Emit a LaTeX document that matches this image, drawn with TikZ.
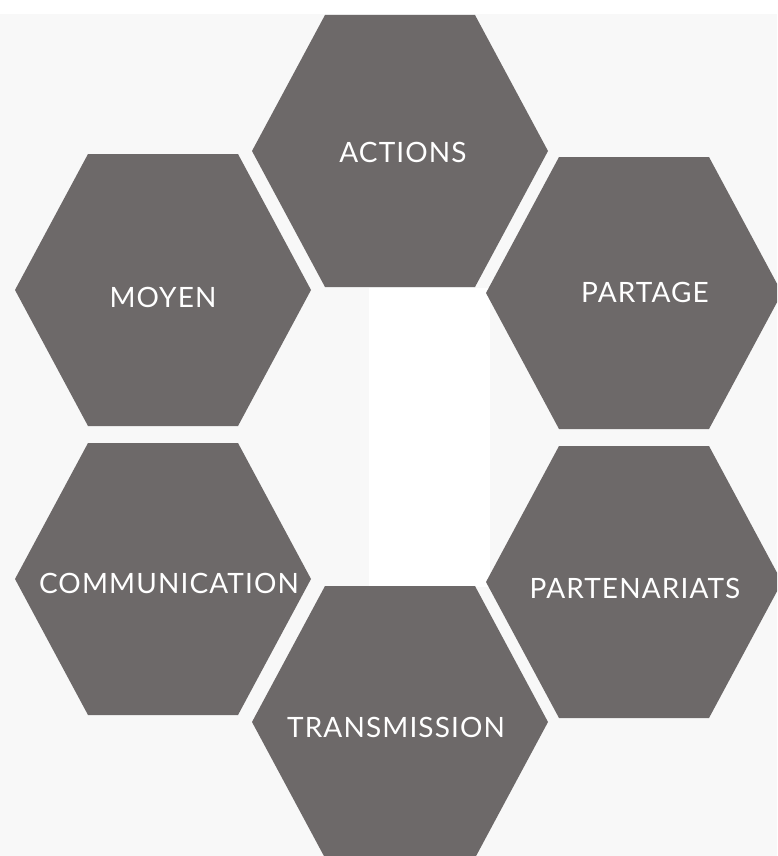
\documentclass[tikz,border=0pt]{standalone}
\usepackage{fontspec}
\setsansfont{Lato}[LetterSpace=4]
\usepackage{tikz}

\definecolor{hexgray}{RGB}{109,105,105}
\definecolor{paper}{RGB}{248,248,248}

\tikzset{
  hexcell/.style={fill=hexgray},
  celltext/.style={text=white,font=\sffamily\fontsize{28}{30}\selectfont,inner sep=0pt}
}

\begin{document}
\begin{tikzpicture}[x=1pt,y=-1pt]
        \useasboundingbox (0,0) rectangle (777,856);
        \clip (0,0) rectangle (777,856);
        \fill[white] (0,0) rectangle (777,856);
        \fill[paper] (0,14) rectangle (777,856);
        \fill[white] (369,288) rectangle (490,587);
        % six cells: name/centre x/centre y/text x/text y/label
        \foreach \nm/\cx/\cy/\tx/\ty/\lbl in {
            actions/400/151/403/152/ACTIONS,
            moyen/163/290/163/297/MOYEN,
            partage/634/293/645/292/PARTAGE,
            communication/163/579/169/583/COMMUNICATION,
            partenariats/634/582/635/588/PARTENARIATS,
            transmission/400/722/396/727/TRANSMISSION}{
          \fill[hexcell] (\cx-148,\cy) -- (\cx-75,\cy-136) -- (\cx+75,\cy-136)
            -- (\cx+148,\cy) -- (\cx+75,\cy+136) -- (\cx-75,\cy+136) -- cycle;
          \node[celltext] (\nm) at (\tx,\ty) {\lbl};
        }
      \end{tikzpicture}
\end{document}
